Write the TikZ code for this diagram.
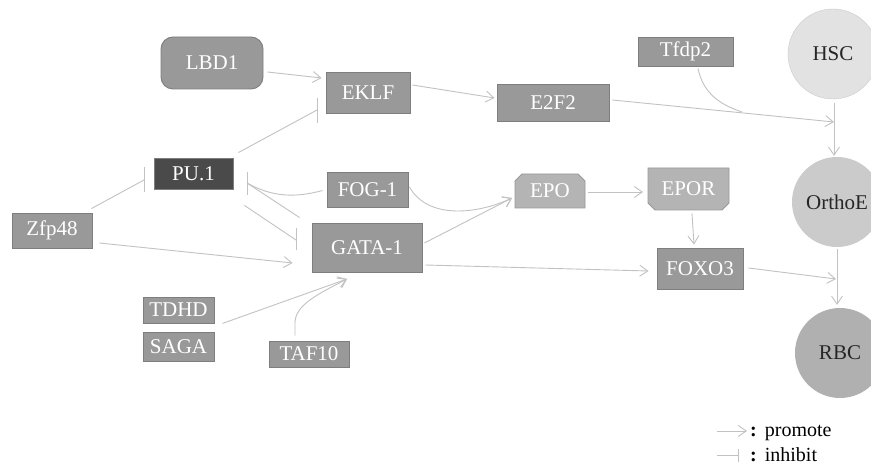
\documentclass[tikz,border=0pt]{standalone}
\usepackage{fontspec}
\setmainfont{Liberation Serif}
\usetikzlibrary{arrows.meta,calc}
\definecolor{boxfill}{HTML}{999999}
\definecolor{boxline}{HTML}{7E7E7E}
\definecolor{darkfill}{HTML}{4A4A4A}
\definecolor{lightfill}{HTML}{B4B4B4}
\definecolor{conn}{HTML}{C2C2C2}
\definecolor{hscfill}{HTML}{E2E2E2}
\definecolor{orthofill}{HTML}{CBCBCB}
\definecolor{rbcfill}{HTML}{B0B0B0}
\tikzset{
  gbox/.style={draw=boxline, fill=boxfill, text=white, line width=0.9pt, inner sep=0pt,
    font=\fontsize{21}{21}\selectfont},
  cell/.style={circle, inner sep=0pt, text=black!85, font=\fontsize{21}{21}\selectfont},
  promo/.style={draw=conn, line width=0.9pt, -{Straight Barb[length=8pt,width=11pt,line width=0.9pt]}},
  inhib/.style={draw=conn, line width=0.9pt},
  legendtxt/.style={inner sep=0pt, font=\fontsize{20}{20}\selectfont, text=black}
}
\begin{document}
\begin{tikzpicture}[x=1pt,y=-1pt]
\useasboundingbox (0,0) rectangle (871,465);
\fill[white] (0,0) rectangle (871,465);

% chamfered shapes (backgrounds)
\filldraw[fill=lightfill, draw=boxline!80, line width=0.9pt]
  (515,208) -- (515,181) -- (522,174) -- (578,174) -- (585,181) -- (585,208) -- cycle;
\filldraw[fill=lightfill, draw=boxline!80, line width=0.9pt]
  (648,168) -- (729,168) -- (729,203) -- (722,210) -- (655,210) -- (648,203) -- cycle;

% nodes
\node[gbox, rounded corners=12pt, minimum width=102pt, minimum height=52pt] (LBD1) at (212,63) {LBD1};
\node[gbox, minimum width=84pt, minimum height=41pt] (EKLF) at (368,92.5) {EKLF};
\node[gbox, minimum width=112pt, minimum height=37pt] (E2F2) at (553,102.5) {E2F2};
\node[gbox, minimum width=95pt, minimum height=29pt] (Tfdp2) at (685.5,51.5) {Tfdp2};
\node[gbox, fill=darkfill, minimum width=79pt, minimum height=31pt] (PU1) at (193.5,173.5) {PU.1};
\node[gbox, minimum width=81pt, minimum height=35pt] (FOG1) at (367.5,189.5) {FOG-1};
\node[gbox, minimum width=80pt, minimum height=35pt] (Zfp48) at (52,230.5) {Zfp48};
\node[gbox, minimum width=110pt, minimum height=49pt] (GATA1) at (367,247.5) {GATA-1};
\node[gbox, minimum width=71pt, minimum height=26pt] (TDHD) at (178.5,310) {TDHD};
\node[gbox, minimum width=71pt, minimum height=29pt] (SAGA) at (178.5,346.5) {SAGA};
\node[gbox, minimum width=80pt, minimum height=26pt] (TAF10) at (309,354) {TAF10};
\node[gbox, draw=none, fill=none, minimum width=70pt, minimum height=34pt] (EPO) at (550,191) {EPO};
\node[gbox, draw=none, fill=none, minimum width=81pt, minimum height=42pt] (EPOR) at (688.5,189) {EPOR};
\node[gbox, minimum width=86pt, minimum height=41pt] (FOXO3) at (700,268.5) {FOXO3};

\node[cell, fill=hscfill, draw=hscfill!90!black, minimum size=90pt] (HSC) at (833,54) {HSC};
\node[cell, fill=orthofill, minimum size=90pt] (OrthoE) at (837,202) {OrthoE};
\node[cell, fill=rbcfill, minimum size=90pt] (RBC) at (840,353) {RBC};

% junction / bar coordinates
\coordinate (j1) at (834,122);
\coordinate (tj) at (742,112);
\coordinate (j2) at (836,279);
\coordinate (gIn) at (347,279);
\coordinate (eIn) at (512,198);
\coordinate (bEKLF) at (317,110);
\coordinate (bPUa) at (144,180);
\coordinate (bPUb) at (247,183);
\coordinate (bGATA) at (296,240);

% promote connectors
\draw[promo] ($(LBD1.east)+(4,9)$) -- ($(EKLF.west)+(-4,-14.5)$);
\draw[promo] ($(EKLF.east)+(2,-7.5)$) -- ($(E2F2.west)+(-2,-4.5)$);
\draw[promo] ($(E2F2.east)+(3,-2.5)$) -- (j1);
\draw[inhib] ($(Tfdp2.south)+(12.5,2)$) .. controls (703,92) and (718,104) .. (tj);
\draw[promo] ($(HSC.south)+(1,4)$) -- ($(OrthoE.north)+(-3,-1)$);
\draw[promo] ($(OrthoE.south)+(0,2)$) -- ($(RBC.north)+(-3,-3)$);
\draw[promo] ($(Zfp48.east)+(7,12.5)$) -- ($(GATA1.west)+(-19,15.5)$);
\draw[promo] ($(TDHD.south east)+(8,0)$) -- (gIn);
\draw[promo] ($(TAF10.north)+(-14,-5)$) -- (295,323) .. controls (295,305) and (318,294) .. (gIn);
\draw[promo] ($(FOG1.east)+(1,-2.5)$) .. controls (428,220) and (478,214) .. (eIn);
\draw[promo] ($(GATA1.east)+(2,-4.5)$) -- (eIn);
\draw[promo] ($(GATA1.east)+(3,17.5)$) -- ($(FOXO3.west)+(-8,2.5)$);
\draw[promo] ($(EPO.east)+(2.5,1)$) -- ($(EPOR.west)+(-4.5,3)$);
\draw[promo] ($(EPOR.south)+(3.5,3)$) -- ($(FOXO3.north)+(-6,-3)$);
\draw[promo] ($(FOXO3.east)+(5,-0.5)$) -- (j2);

% inhibit connectors
\draw[inhib] ($(PU1.north east)+(5,-5)$) -- (bEKLF);
\draw[inhib] ($(bEKLF)+(0,-12)$) -- ($(bEKLF)+(0,13)$);
\draw[inhib] ($(Zfp48.north east)+(-1,-4)$) -- (bPUa);
\draw[inhib] ($(bPUa)+(0,-13)$) -- ($(bPUa)+(0,12)$);
\draw[inhib] ($(FOG1.west)+(-4,1)$) .. controls (295,198) and (272,197) .. (bPUb);
\draw[inhib] ($(GATA1.north west)+(-12,-5)$) -- (bPUb);
\draw[inhib] ($(bPUb)+(0,-11)$) -- ($(bPUb)+(0,12)$);
\draw[inhib] ($(PU1.south east)+(11,16)$) -- (bGATA);
\draw[inhib] ($(bGATA)+(0,-12)$) -- ($(bGATA)+(0,10)$);

% legend
\coordinate (lgA1) at (717,431);
\coordinate (lgA2) at (747,431);
\draw[promo] (lgA1) -- (lgA2);
\node[legendtxt, anchor=base west] (lgP) at (750,436) {\textbf{:}\hspace{8pt}promote};
\coordinate (lgI1) at (717,455);
\coordinate (lgI2) at (738,455);
\draw[inhib] (lgI1) -- (lgI2);
\draw[inhib] ($(lgI2)+(0,-6)$) -- ($(lgI2)+(0,7)$);
\node[legendtxt, anchor=base west] (lgI) at (750,461) {\textbf{:}\hspace{8pt}inhibit};
\end{tikzpicture}
\end{document}
